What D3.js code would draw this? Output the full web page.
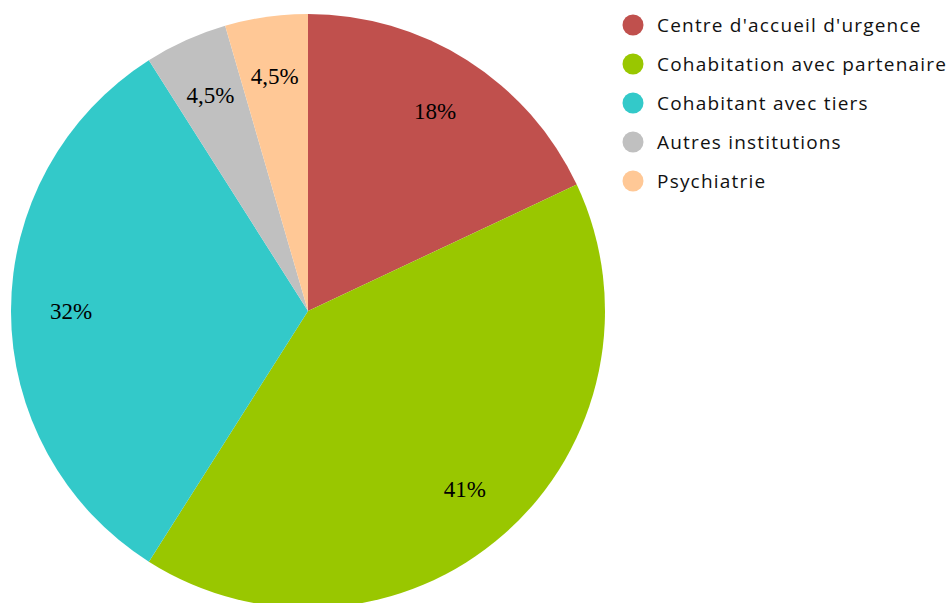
<!DOCTYPE html>
<html><head><meta charset="utf-8">
<script src="https://cdn.jsdelivr.net/npm/d3@7"></script>
<style>html,body{margin:0;padding:0;background:#fff;overflow:hidden}</style>
</head><body>
<svg id="c" width="948" height="603"></svg>
<script>
const categories = ["Centre d'accueil d'urgence","Cohabitation avec partenaire","Cohabitant avec tiers","Autres institutions","Psychiatrie"];
const values = [18, 41, 32, 4.5, 4.5];
const labels = ["18%","41%","32%","4,5%","4,5%"];
const colors = ["#c0504d","#99c700","#33c9c9","#c0c0c0","#ffc896"];

const svg = d3.select("#c");
const cx = 308, cy = 311, R = 297, LR = 237;
const data = categories.map((c,i)=>({cat:c, v:values[i], label:labels[i], color:colors[i]}));
const pie = d3.pie().value(d=>d.v).sort(null);
const arcs = pie(data);
const arc = d3.arc().innerRadius(0).outerRadius(R);
const larc = d3.arc().innerRadius(LR).outerRadius(LR);
const g = svg.append("g").attr("transform",`translate(${cx},${cy})`);
g.selectAll("path").data(arcs).join("path").attr("d",arc).attr("fill",d=>d.data.color);
g.selectAll("text").data(arcs).join("text")
  .attr("transform",d=>`translate(${larc.centroid(d)})`)
  .attr("text-anchor","middle").attr("dy","0.35em")
  .style("font-family","'Liberation Serif','Times New Roman',serif").style("font-size","23px")
  .text(d=>d.data.label);

const lg = svg.append("g");
const ly = d3.scaleLinear().domain([0,1]).range([25,64]);
const items = lg.selectAll("g").data(data).join("g").attr("transform",(d,i)=>`translate(633,${ly(i)})`);
items.append("circle").attr("r",10.5).attr("fill",d=>d.color);
items.append("text").attr("x",24).attr("dy","0.35em")
  .style("font-family","'Open Sans',sans-serif").style("font-size","19px").style("letter-spacing","1.2px").attr("fill","#111")
  .text(d=>d.cat);
</script>
</body></html>
